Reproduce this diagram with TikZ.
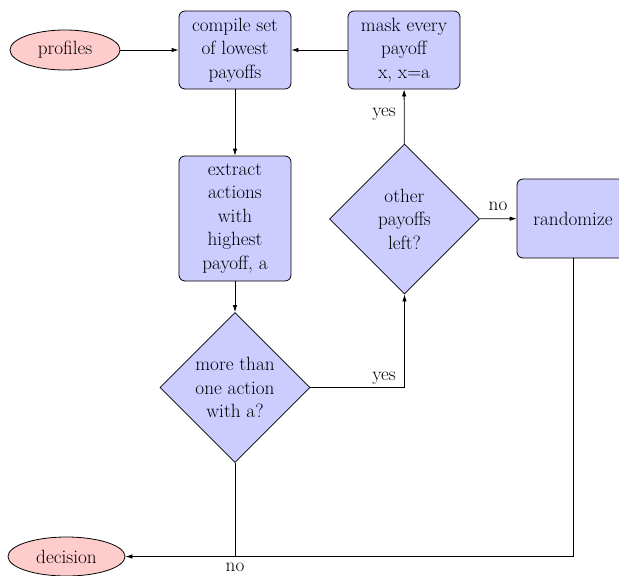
\documentclass[tikz,border=0pt]{standalone}
\usetikzlibrary{shapes.geometric,arrows.meta}
\begin{document}
\begin{tikzpicture}[x=1pt,y=-1pt, font=\fontsize{19.2}{23.5}\selectfont,
 box/.style={draw, rounded corners=6pt, fill=blue!20, minimum width=112pt, align=center, line width=0.8pt, inner sep=0pt},
 dec/.style={diamond, draw, fill=blue!20, minimum width=150pt, minimum height=150pt, inner sep=0pt, align=center, line width=0.8pt},
 term/.style={ellipse, draw, fill=red!20, line width=0.8pt, inner sep=0pt},
 conn/.style={line width=0.8pt, -{Latex[length=7pt,width=4.5pt]}},
 plainline/.style={line width=0.8pt}]
\useasboundingbox (0,0) rectangle (619,576);
\node[term, minimum width=110pt, minimum height=40pt] (profiles) at (65,50) {profiles};
\node[box, minimum height=78pt] (compile) at (235,50) {compile set\\of lowest\\payoffs};
\node[box, minimum height=78pt] (mask) at (404,50) {mask every\\payoff\\x, x=a};
\node[box, minimum height=125pt] (extract) at (235,218.5) {extract\\actions\\with\\highest\\payoff, a};
\node[dec] (more) at (235,387.5) {more than\\one action\\with a?};
\node[dec] (other) at (404.5,219) {other\\payoffs\\left?};
\node[box, minimum height=79pt] (randomize) at (573,218.5) {randomize};
\node[term, minimum width=117pt, minimum height=39pt] (decision) at (66.5,556.5) {decision};
\draw[conn] (profiles) -- (compile);
\draw[conn] (mask) -- (compile);
\draw[conn] (compile) -- (extract);
\draw[conn] (extract) -- (more);
\draw[conn] (more.east) -| (other.south);
\draw[conn] (other) -- (mask);
\draw[conn] (other) -- (randomize);
\draw[conn] (randomize.south) |- (decision.east);
\coordinate (join) at (more.south |- decision.east);
\draw[plainline] (more.south) -- (join);
\node (yesA) at (384,378) {yes};
\node (yesB) at (384,114) {yes};
\node (noA) at (498,206) {no};
\node (noB) at (235,567) {no};
\end{tikzpicture}
\end{document}
